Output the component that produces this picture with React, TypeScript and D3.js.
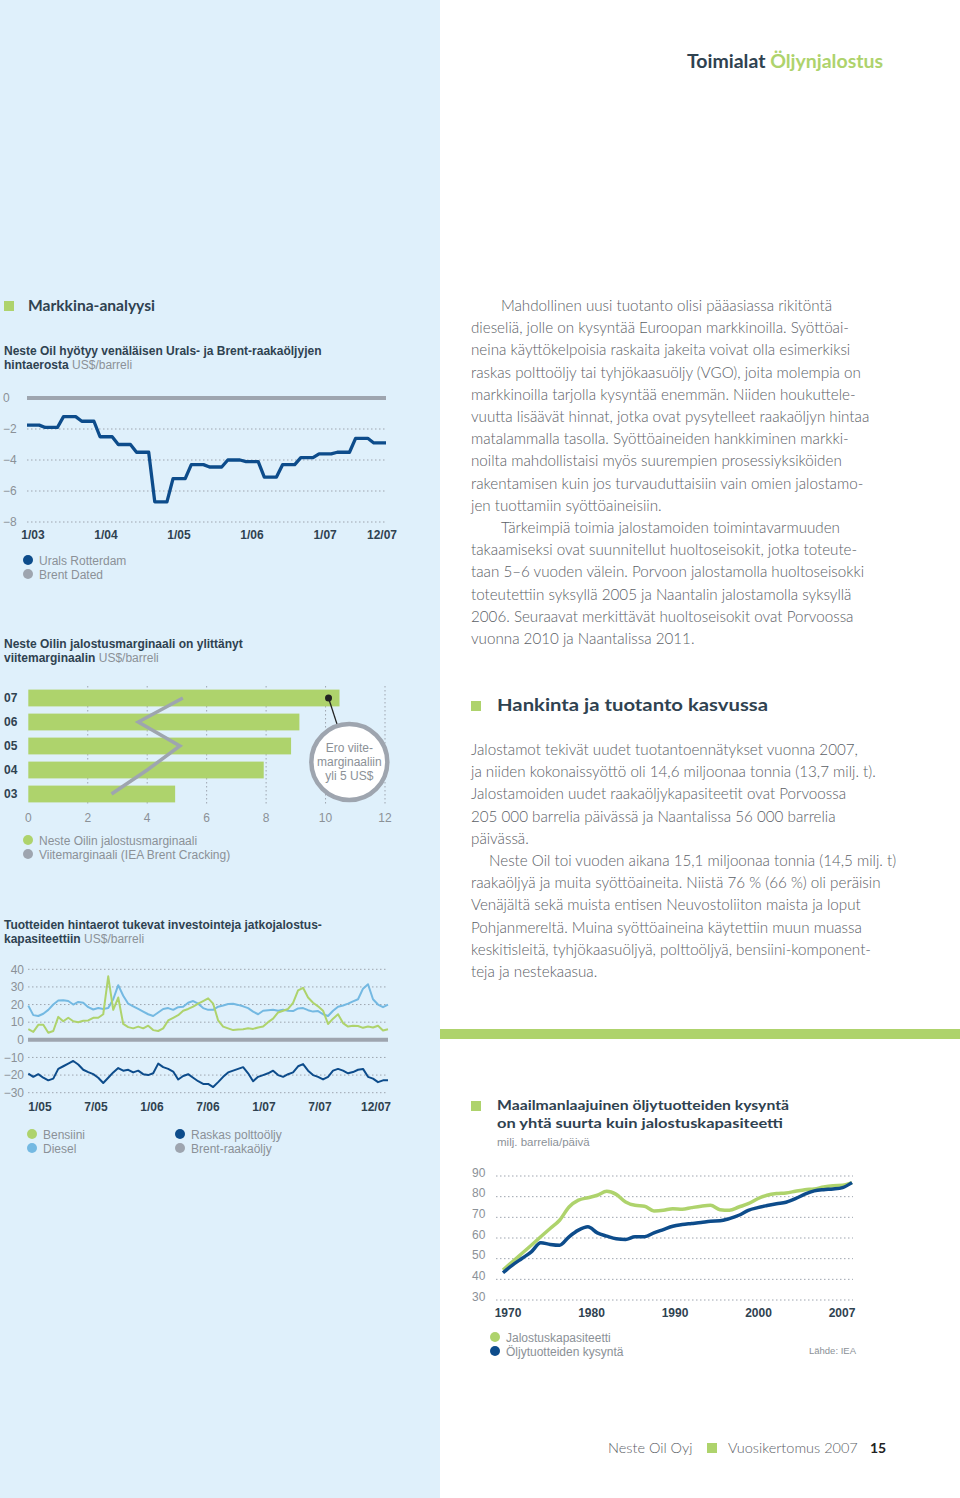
import * as d3 from "d3";

// Urals vs Brent spread, quarterly 2003–2007 (US$/bbl)
const uralsSpread = [-1.75, -1.9, -1.2, -1.5, -2.5, -3.0, -3.5, -6.7, -5.2, -4.3, -4.45, -4.0, -4.1, -5.1, -4.3, -3.85, -3.6, -3.5, -2.6, -2.9];
const uralsTicks = ["1/03", "1/04", "1/05", "1/06", "1/07", "12/07"];
const uralsTickMonths = [0, 12, 24, 36, 48, 59];

// refining margin vs reference margin
const marginYears = ["07", "06", "05", "04", "03"];
const nesteMargin = [10.47, 9.12, 8.84, 7.92, 4.94];
const refMargin = [5.2, 3.7, 5.1, 4.0, 2.8];

// product spreads vs Brent, half-month samples 1/05–12/07
const bensiini = [6, 4.5, 8.5, 8.5, 4, 5, 13, 10.5, 12.5, 10.5, 10, 10.8, 11, 12.5, 12.5, 14.5, 36, 17, 24, 9, 7.2, 6.5, 7.5, 6.5, 8, 5.5, 5, 6.5, 11, 12.5, 14, 16.5, 17.5, 18.8, 20.5, 22, 23.5, 20.5, 11, 7.5, 6.5, 5.5, 5.8, 6, 6.5, 6.2, 7, 7.5, 10, 12, 15.5, 16.5, 17.5, 21, 28, 29.5, 24, 21, 19, 16.5, 9, 12, 14.5, 9.5, 7.5, 8, 7.8, 6.8, 7.5, 7, 8, 5.3, 6];
const diesel = [19.4, 14, 13.5, 14.8, 17, 20, 22.3, 22.5, 22, 20, 21.5, 21, 18.5, 17.2, 18, 17.5, 18, 23, 31, 25, 20.5, 19, 17.5, 16, 14.5, 13.5, 15.5, 17.5, 18, 17, 18.5, 18.8, 21, 22, 20.5, 18, 17, 17, 18.8, 19.5, 20.3, 20.5, 19.8, 19, 18, 16, 14.5, 16.5, 16.8, 17, 16.5, 17, 16.5, 16.3, 17.8, 18, 16.8, 16, 16.3, 14.5, 13.5, 16.5, 18.8, 19.5, 20.5, 21.8, 23, 29, 31.5, 23, 20, 18.5, 20];
const raskas = [-19.2, -21, -19.5, -21.5, -23, -22, -16.5, -15, -13.5, -12, -14, -17, -18.3, -19.5, -21.5, -24.5, -21.5, -18.5, -16, -17.5, -17, -18.5, -17.5, -19.5, -20, -19, -13.5, -15.5, -16.5, -18, -22.5, -20.5, -19.5, -21.5, -23.5, -25, -25, -26.8, -24, -21, -18.5, -17.5, -16.5, -15.5, -19, -23.5, -21, -20, -19, -17.5, -20, -21, -19.5, -18.5, -15, -13.8, -17.5, -20, -21, -22.5, -21, -17.5, -16.5, -17.5, -19, -18.3, -17, -16.5, -21, -22, -24, -23, -23];
const spreadTicks = ["1/05", "7/05", "1/06", "7/06", "1/07", "7/07", "12/07"];
const spreadY = [40, 30, 20, 10, 0, -10, -20, -30];

// world demand vs refining capacity, mb/d
const years = d3.range(1970, 2008);
const capacity = [44.5, 48.5, 52.5, 56.5, 60.6, 64.6, 68.6, 75, 78.3, 79.5, 80.7, 82.6, 81.1, 77.4, 75.8, 75.4, 73.1, 73.4, 74.2, 73.9, 74.7, 75.4, 75.8, 73.7, 73.4, 75, 76.6, 79, 80.7, 81.5, 81.8, 82.6, 83.4, 83.7, 84.7, 85.3, 85.5, 86.8];
const demand = [43.2, 46.9, 50.1, 53.3, 57.7, 56.9, 56.5, 60.6, 63.8, 65.4, 62.5, 60.9, 59.6, 59.3, 60.6, 60.6, 62.5, 64.1, 65.7, 66.5, 67, 67.5, 68.1, 68.3, 69.4, 71, 73.4, 74.7, 75.7, 76.6, 77.3, 79, 81.2, 82.8, 83.4, 83.7, 84.4, 86.8];
const demandTicks = ["1970", "1980", "1990", "2000", "2007"];
const demandY = [90, 80, 70, 60, 50, 40, 30];

const para1 = [
  "Mahdollinen uusi tuotanto olisi pääasiassa rikitöntä",
  "dieseliä, jolle on kysyntää Euroopan markkinoilla. Syöttöai-",
  "neina käyttökelpoisia raskaita jakeita voivat olla esimerkiksi",
  "raskas polttoöljy tai tyhjökaasuöljy (VGO), joita molempia on",
  "markkinoilla tarjolla kysyntää enemmän. Niiden houkuttele-",
  "vuutta lisäävät hinnat, jotka ovat pysytelleet raakaöljyn hintaa",
  "matalammalla tasolla. Syöttöaineiden hankkiminen markki-",
  "noilta mahdollistaisi myös suurempien prosessiyksiköiden",
  "rakentamisen kuin jos turvauduttaisiin vain omien jalostamo-",
  "jen tuottamiin syöttöaineisiin.",
  "Tärkeimpiä toimia jalostamoiden toimintavarmuuden",
  "takaamiseksi ovat suunnitellut huoltoseisokit, jotka toteute-",
  "taan 5–6 vuoden välein. Porvoon jalostamolla huoltoseisokki",
  "toteutettiin syksyllä 2005 ja Naantalin jalostamolla syksyllä",
  "2006. Seuraavat merkittävät huoltoseisokit ovat Porvoossa",
  "vuonna 2010 ja Naantalissa 2011.",
];
const para1Indent = [0, 10];
const para2 = [
  "Jalostamot tekivät uudet tuotantoennätykset vuonna 2007,",
  "ja niiden kokonaissyöttö oli 14,6 miljoonaa tonnia (13,7 milj. t).",
  "Jalostamoiden uudet raakaöljykapasiteetit ovat Porvoossa",
  "205 000 barrelia päivässä ja Naantalissa 56 000 barrelia",
  "päivässä.",
  "Neste Oil toi vuoden aikana 15,1 miljoonaa tonnia (14,5 milj. t)",
  "raakaöljyä ja muita syöttöaineita. Niistä 76 % (66 %) oli peräisin",
  "Venäjältä sekä muista entisen Neuvostoliiton maista ja loput",
  "Pohjanmereltä. Muina syöttöaineina käytettiin muun muassa",
  "keskitisleitä, tyhjökaasuöljyä, polttoöljyä, bensiini-komponent-",
  "teja ja nestekaasua.",
];
const para2Indent = [5];

const GREEN = "#aed36c";
const BLUE = "#0d4c8b";
const LIGHTBLUE = "#74b9e2";
const GRAY = "#9ea5af";
const DARK = "#2f4250";
const TICK = "#8b9197";
const BODY = "#5b6066";
const SANS = "'Liberation Sans', Arial, sans-serif";
const ROUND = "Lato, 'Noto Sans', sans-serif";

function Dotted({ x1, x2, y1, y2 }: { x1: number; x2: number; y1: number; y2: number }) {
  return <line x1={x1} x2={x2} y1={y1} y2={y2} stroke={GRAY} strokeWidth={1} strokeDasharray="1.5,2.5" />;
}

function Legend({ x, y, items }: { x: number; y: number; items: [string, string][] }) {
  return (
    <g>
      {items.map(([label, color], i) => (
        <g key={label}>
          <circle cx={x} cy={y + i * 14} r={5} fill={color} />
          <text x={x + 11} y={y + i * 14 + 4.5} fontSize={12} fill={TICK} fontFamily={SANS}>{label}</text>
        </g>
      ))}
    </g>
  );
}

function UralsChart() {
  const x = d3.scaleLinear().domain([0, 59]).range([27, 386]);
  const y = d3.scaleLinear().domain([-8, 0]).range([522, 398]);
  const pts: [number, number][] = [];
  uralsSpread.forEach((v, i) => {
    pts.push([3 * i, v], [Math.min(3 * i + 2, 59), v]);
  });
  const line = d3.line<[number, number]>().x((d) => x(d[0])).y((d) => y(d[1]));
  return (
    <g>
      {[-2, -4, -6, -8].map((t) => (
        <Dotted key={t} x1={27} x2={386} y1={y(t)} y2={y(t)} />
      ))}
      {[0, -2, -4, -6, -8].map((t) => (
        <text key={t} x={3} y={y(t)} dy="0.35em" fontSize={12} fill={TICK} fontFamily={SANS}>
          {t === 0 ? "0" : "−" + Math.abs(t)}
        </text>
      ))}
      <line x1={27} x2={386} y1={y(0)} y2={y(0)} stroke={GRAY} strokeWidth={4} />
      <path d={line(pts) ?? ""} fill="none" stroke={BLUE} strokeWidth={3.3} strokeLinejoin="round" />
      {uralsTicks.map((t, i) => {
        const last = i === uralsTicks.length - 1;
        return (
          <text key={t} x={x(uralsTickMonths[i]) + (last ? 11 : 6)} y={539} textAnchor={last ? "end" : "middle"}
            fontSize={12} fontWeight="bold" fill={DARK} fontFamily={SANS}>{t}</text>
        );
      })}
      <Legend x={28} y={560} items={[["Urals Rotterdam", BLUE], ["Brent Dated", GRAY]]} />
    </g>
  );
}

function MarginChart() {
  const x = d3.scaleLinear().domain([0, 12]).range([28.3, 385]);
  const y = d3.scaleBand<string>().domain(marginYears).range([686, 806]).paddingInner(0.3).paddingOuter(0.15);
  const bw = y.bandwidth();
  const cy = (k: string) => (y(k) ?? 0) + bw / 2;
  const line = d3.line<number>().x((d) => x(d)).y((_, i) => cy(marginYears[i]));
  const dotX = x(10.1), dotY = cy("07");
  const cX = x(10.8), cY = cy("05") + 16, r = 38;
  const ang = Math.atan2(cY - dotY, cX - dotX);
  return (
    <g>
      {[2, 4, 6, 8, 10, 12].map((t) => (
        <Dotted key={t} x1={x(t)} x2={x(t)} y1={686} y2={806} />
      ))}
      {marginYears.map((k, i) => (
        <g key={k}>
          <rect x={x(0)} y={y(k)} width={x(nesteMargin[i]) - x(0)} height={bw} fill={GREEN} />
          <text x={4} y={cy(k)} dy="0.35em" fontSize={12} fontWeight="bold" fill={DARK} fontFamily={SANS}>{k}</text>
        </g>
      ))}
      <path d={line(refMargin) ?? ""} fill="none" stroke={GRAY} strokeWidth={3.5} />
      {d3.range(0, 13, 2).map((t) => (
        <text key={t} x={x(t)} y={822} textAnchor="middle" fontSize={12} fill={TICK} fontFamily={SANS}>{t}</text>
      ))}
      <line x1={dotX} y1={dotY} x2={cX - r * Math.cos(ang)} y2={cY - r * Math.sin(ang)} stroke="#222" strokeWidth={1.3} />
      <circle cx={dotX} cy={dotY} r={3.5} fill="#222" />
      <circle cx={cX} cy={cY} r={r} fill="#fff" stroke={GRAY} strokeWidth={4.5} />
      {["Ero viite-", "marginaaliin", "yli 5 US$"].map((s, i) => (
        <text key={s} x={cX} y={cY - 10 + i * 14} textAnchor="middle" fontSize={12} fill={TICK} fontFamily={SANS}>{s}</text>
      ))}
      <Legend x={28} y={840} items={[["Neste Oilin jalostusmarginaali", GREEN], ["Viitemarginaali (IEA Brent Cracking)", GRAY]]} />
    </g>
  );
}

function SpreadChart() {
  const x = d3.scaleLinear().domain([0, bensiini.length - 1]).range([28.3, 388]);
  const y = d3.scaleLinear().domain([-30, 40]).range([1092.7, 969.3]);
  const tx = d3.scalePoint<string>().domain(spreadTicks).range([40, 376]);
  const line = d3.line<number>().x((_, i) => x(i)).y((d) => y(d));
  return (
    <g>
      {spreadY.filter((t) => t !== 0).map((t) => (
        <Dotted key={t} x1={28} x2={388} y1={y(t)} y2={y(t)} />
      ))}
      {spreadY.map((t) => (
        <text key={t} x={24} y={y(t)} dy="0.35em" textAnchor="end" fontSize={12} fill={TICK} fontFamily={SANS}>
          {t < 0 ? "−" + Math.abs(t) : t}
        </text>
      ))}
      <line x1={28} x2={388} y1={y(0)} y2={y(0)} stroke={GRAY} strokeWidth={4} />
      <path d={line(diesel) ?? ""} fill="none" stroke={LIGHTBLUE} strokeWidth={2} strokeLinejoin="round" />
      <path d={line(bensiini) ?? ""} fill="none" stroke={GREEN} strokeWidth={2} strokeLinejoin="round" />
      <path d={line(raskas) ?? ""} fill="none" stroke={BLUE} strokeWidth={2} strokeLinejoin="round" />
      {spreadTicks.map((t) => (
        <text key={t} x={tx(t)} y={1111} textAnchor="middle" fontSize={12} fontWeight="bold" fill={DARK} fontFamily={SANS}>{t}</text>
      ))}
      <Legend x={32} y={1134} items={[["Bensiini", GREEN], ["Diesel", LIGHTBLUE]]} />
      <Legend x={180} y={1134} items={[["Raskas polttoöljy", BLUE], ["Brent-raakaöljy", GRAY]]} />
    </g>
  );
}

function DemandChart() {
  const x = d3.scaleLinear().domain([1970, 2007]).range([503, 852]);
  const y = d3.scaleLinear().domain([30, 90]).range([1300, 1176]);
  const tx = d3.scalePoint<string>().domain(demandTicks).range([508, 842]);
  const line = d3.line<number>().x((_, i) => x(years[i])).y((d) => y(d)).curve(d3.curveMonotoneX);
  return (
    <g>
      {demandY.map((t) => (
        <g key={t}>
          <Dotted x1={496} x2={853} y1={y(t)} y2={y(t)} />
          <text x={472} y={y(t) + 0.5} fontSize={12} fill={TICK} fontFamily={SANS}>{t}</text>
        </g>
      ))}
      <path d={line(capacity) ?? ""} fill="none" stroke={GREEN} strokeWidth={3.5} strokeLinejoin="round" />
      <path d={line(demand) ?? ""} fill="none" stroke={BLUE} strokeWidth={3.5} strokeLinejoin="round" />
      {demandTicks.map((t) => (
        <text key={t} x={tx(t)} y={1317} textAnchor="middle" fontSize={12} fontWeight="bold" fill={DARK} fontFamily={SANS}>{t}</text>
      ))}
      <Legend x={495} y={1337} items={[["Jalostuskapasiteetti", GREEN], ["Öljytuotteiden kysyntä", BLUE]]} />
      <text x={856} y={1354} textAnchor="end" fontSize={9.5} fill={TICK} fontFamily={SANS}>Lähde: IEA</text>
    </g>
  );
}

function Paragraph({ lines, y0, indentAt, indentX }: { lines: string[]; y0: number; indentAt: number[]; indentX: number }) {
  return (
    <g>
      {lines.map((s, i) => (
        <text key={i} x={indentAt.includes(i) ? indentX : 471} y={y0 + i * 22.2} fontSize={15.2} fontWeight={300}
          fill={BODY} fontFamily={ROUND}>{s}</text>
      ))}
    </g>
  );
}

function ChartTitle({ y, bold1, bold2, unit }: { y: number; bold1: string; bold2: string; unit: string }) {
  return (
    <g fontFamily={SANS} fontSize={12}>
      <text x={4} y={y} fontWeight="bold" fill={DARK}>{bold1}</text>
      <text x={4} y={y + 14}>
        <tspan fontWeight="bold" fill={DARK}>{bold2}</tspan>
        <tspan fill={TICK}> {unit}</tspan>
      </text>
    </g>
  );
}

function Heading({ x, y, size, width, children }: { x: number; y: number; size: number; width: number; children: any }) {
  return (
    <text x={x} y={y} fontSize={size} fontWeight="bold" fill={DARK} fontFamily={ROUND}
      textLength={width} lengthAdjust="spacingAndGlyphs">{children}</text>
  );
}

export default function App() {
  return (
    <div style={{ position: "absolute", left: 0, top: 0 }}>
      <svg width={960} height={1498} style={{ display: "block" }}>
        <rect x={0} y={0} width={960} height={1498} fill="#fff" />
        <rect x={0} y={0} width={440} height={1498} fill="#dff0fb" />
        <rect x={440} y={1029} width={520} height={10} fill={GREEN} />

        <text x={687} y={68} fontSize={18} fontWeight="bold" fontFamily={ROUND}
          textLength={196} lengthAdjust="spacingAndGlyphs">
          <tspan fill={DARK}>Toimialat </tspan>
          <tspan fill={GREEN}>Öljynjalostus</tspan>
        </text>

        <rect x={4} y={301} width={10} height={10} fill={GREEN} />
        <Heading x={28} y={311} size={15.5} width={127}>Markkina-analyysi</Heading>

        <ChartTitle y={355} bold1="Neste Oil hyötyy venäläisen Urals- ja Brent-raakaöljyjen" bold2="hintaerosta" unit="US$/barreli" />
        <UralsChart />

        <ChartTitle y={648} bold1="Neste Oilin jalostusmarginaali on ylittänyt" bold2="viitemarginaalin" unit="US$/barreli" />
        <MarginChart />

        <ChartTitle y={929} bold1="Tuotteiden hintaerot tukevat investointeja jatkojalostus-" bold2="kapasiteettiin" unit="US$/barreli" />
        <SpreadChart />

        <Paragraph lines={para1} y0={311} indentAt={para1Indent} indentX={501} />

        <rect x={471} y={701} width={10} height={10} fill={GREEN} />
        <Heading x={497} y={711} size={17} width={271}>Hankinta ja tuotanto kasvussa</Heading>
        <Paragraph lines={para2} y0={755} indentAt={para2Indent} indentX={489} />

        <rect x={471} y={1101} width={10} height={10} fill={GREEN} />
        <Heading x={497} y={1110} size={14} width={292}>Maailmanlaajuinen öljytuotteiden kysyntä</Heading>
        <Heading x={497} y={1128} size={14} width={286}>on yhtä suurta kuin jalostuskapasiteetti</Heading>
        <text x={497} y={1146} fontSize={11.5} fill={TICK} fontFamily={SANS}>milj. barrelia/päivä</text>
        <DemandChart />

        <text x={608} y={1453} fontSize={14.5} fontWeight={300} fill={BODY} fontFamily={ROUND}>Neste Oil Oyj</text>
        <rect x={707} y={1443} width={10} height={10} fill={GREEN} />
        <text x={728} y={1453} fontSize={14.5} fontWeight={300} fill={BODY} fontFamily={ROUND}>Vuosikertomus 2007</text>
        <text x={870} y={1453} fontSize={14} fontWeight="bold" fill="#222" fontFamily={ROUND}>15</text>
      </svg>
    </div>
  );
}
